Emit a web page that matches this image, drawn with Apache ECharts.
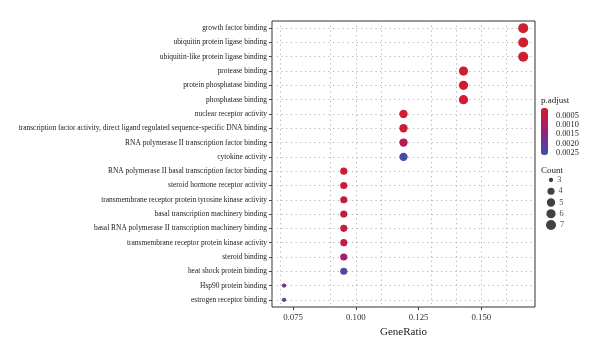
<!DOCTYPE html>
<html><head><meta charset="utf-8">
<script src="https://cdn.jsdelivr.net/npm/echarts@6/dist/echarts.min.js"></script>
<style>html,body{margin:0;padding:0;background:#fff}#c{width:600px;height:356px}</style>
</head><body><div id="c"></div>
<script>
var categories = [
  'growth factor binding',
  'ubiquitin protein ligase binding',
  'ubiquitin-like protein ligase binding',
  'protease binding',
  'protein phosphatase binding',
  'phosphatase binding',
  'nuclear receptor activity',
  'transcription factor activity, direct ligand regulated sequence-specific DNA binding',
  'RNA polymerase II transcription factor binding',
  'cytokine activity',
  'RNA polymerase II basal transcription factor binding',
  'steroid hormone receptor activity',
  'transmembrane receptor protein tyrosine kinase activity',
  'basal transcription machinery binding',
  'basal RNA polymerase II transcription machinery binding',
  'transmembrane receptor protein kinase activity',
  'steroid binding',
  'heat shock protein binding',
  'Hsp90 protein binding',
  'estrogen receptor binding'
];
var geneRatio = [0.1667,0.1667,0.1667,0.1429,0.1429,0.1429,0.1190,0.1190,0.1190,0.1190,
                 0.0952,0.0952,0.0952,0.0952,0.0952,0.0952,0.0952,0.0952,0.0714,0.0714];
var counts = [7,7,7,6,6,6,5,5,5,5,4,4,4,4,4,4,4,4,3,3];
var pAdjust = [0.00012,0.00014,0.00016,0.00020,0.00022,0.00025,0.00018,0.00022,0.00090,0.00250,
               0.00020,0.00040,0.00050,0.00052,0.00055,0.00060,0.00120,0.00240,0.00190,0.00215];
var xTicks = [0.075, 0.100, 0.125, 0.150];
var xGridLines = [0.075, 0.0875, 0.100, 0.1125, 0.125, 0.1375, 0.150, 0.1625];
var pTicks = [0.0005, 0.0010, 0.0015, 0.0020, 0.0025];
var countLevels = [3, 4, 5, 6, 7];

var FONT = 'Liberation Serif';
function dotSize(c) {
  return 4.3 + 5.7 * Math.sqrt((c - 3) / 4);
}
var gridStyle = {color: '#aaaaaa', width: 0.9, type: [1.2, 3.5]};

var chart = echarts.init(document.getElementById('c'), null, {renderer: 'canvas'});
chart.setOption({
  animation: false,
  backgroundColor: '#fff',
  textStyle: {fontFamily: FONT},
  title: [
    {text: 'p.adjust', left: 541, top: 96, padding: 0,
     textStyle: {fontFamily: FONT, fontSize: 9, fontWeight: 'normal', color: '#222'}},
    {text: 'Count', left: 541, top: 166, padding: 0,
     textStyle: {fontFamily: FONT, fontSize: 9, fontWeight: 'normal', color: '#222'}}
  ],
  grid: [
    {left: 272, right: 65, top: 21, bottom: 49, show: true, borderColor: '#333', borderWidth: 1, backgroundColor: 'transparent'},
    {left: 541, width: 7, top: 108, height: 47},
    {left: 546, width: 10, top: 180, height: 45}
  ],
  xAxis: [
    {type: 'value', gridIndex: 0, min: 0.0666, max: 0.1714,
     name: 'GeneRatio', nameLocation: 'middle', nameGap: 18,
     nameTextStyle: {fontFamily: FONT, fontSize: 11, color: '#222'},
     axisLine: {show: false},
     axisTick: {show: true, customValues: xTicks, length: 3, lineStyle: {color: '#444'}},
     axisLabel: {customValues: xTicks, margin: 6, fontFamily: FONT, fontSize: 8.8, color: '#333',
                 formatter: function (v) { return v.toFixed(3); }},
     splitLine: {show: false}},
    {type: 'value', gridIndex: 1, show: false, min: 0, max: 1},
    {type: 'value', gridIndex: 2, show: false, min: 0, max: 1}
  ],
  yAxis: [
    {type: 'category', gridIndex: 0, data: categories, inverse: true,
     axisLine: {show: false},
     axisTick: {show: true, alignWithLabel: true, length: 3, lineStyle: {color: '#444'}},
     axisLabel: {margin: 5, fontFamily: FONT, fontSize: 7.45, color: '#1a1a1a', interval: 0},
     splitLine: {show: false}},
    {type: 'value', gridIndex: 1, min: 0.0001, max: 0.0026, inverse: true, position: 'right',
     axisLine: {show: false}, axisTick: {show: false}, splitLine: {show: false},
     axisLabel: {customValues: pTicks, margin: 8, fontFamily: FONT, fontSize: 8.3, color: '#222',
                 formatter: function (v) { return v.toFixed(4); }}},
    {type: 'category', gridIndex: 2, show: false, inverse: true, boundaryGap: false,
     data: countLevels.map(String)}
  ],
  visualMap: {
    type: 'continuous', seriesIndex: 0, dimension: 2,
    min: 0.0001, max: 0.0026, inverse: true, calculable: false,
    left: 541, top: 108, itemWidth: 7, itemHeight: 47, padding: 0,
    text: null, showLabel: false, hoverLink: false,
    inRange: {color: ['#d01e2c', '#bd1b4c', '#982278', '#6a3599', '#3f52a6']}
  },
  series: [
    {type: 'scatter', xAxisIndex: 0, yAxisIndex: 0, z: 5,
     data: categories.map(function (c, i) { return [geneRatio[i], c, pAdjust[i], counts[i]]; }),
     symbolSize: function (d) { return dotSize(d[3]); },
     itemStyle: {opacity: 1}},
    {type: 'scatter', xAxisIndex: 0, yAxisIndex: 0, z: 1, data: [], silent: true,
     markLine: {silent: true, symbol: 'none', label: {show: false},
       lineStyle: gridStyle, animation: false,
       data: categories.map(function (c) { return {yAxis: c}; })
             .concat(xGridLines.map(function (x) { return {xAxis: x}; }))}},
    {type: 'scatter', xAxisIndex: 2, yAxisIndex: 2, silent: true,
     data: countLevels.map(function (c) { return [0.5, String(c), c]; }),
     symbolSize: function (d) { return dotSize(d[2]); },
     itemStyle: {color: '#111'},
     label: {show: true, position: 'right', distance: 4, fontFamily: FONT, fontSize: 8.3, color: '#222',
             formatter: function (p) { return String(p.data[2]); }}}
  ]
});
</script></body></html>
